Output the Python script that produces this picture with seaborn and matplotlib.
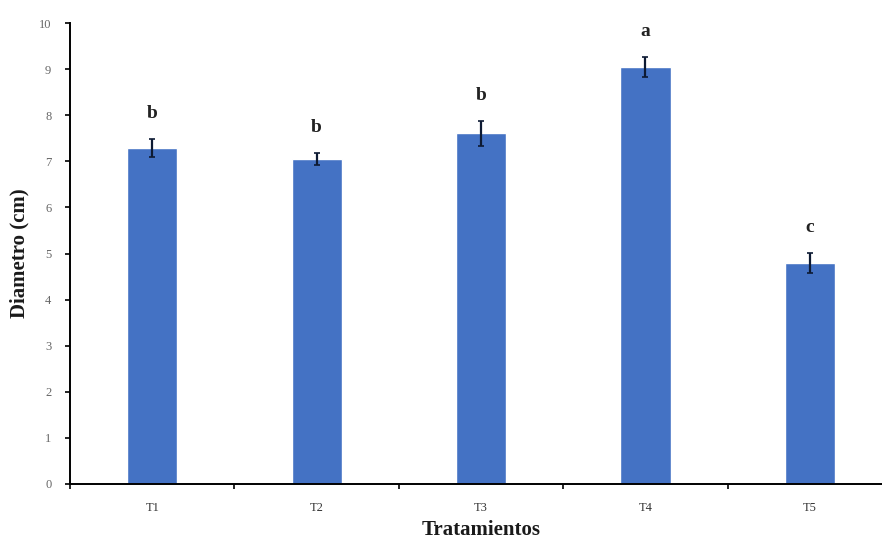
import numpy as np
import pandas as pd
import seaborn as sns
import matplotlib.pyplot as plt

tratamientos = ['T1', 'T2', 'T3', 'T4', 'T5']
diametro = [7.29, 7.05, 7.61, 9.05, 4.8]
error = [0.2, 0.14, 0.27, 0.21, 0.22]
letras = ['b', 'b', 'b', 'a', 'c']

sns.set_style('white')
plt.rcParams['font.family'] = ['Liberation Serif', 'DejaVu Serif']

df = pd.DataFrame({'Tratamientos': tratamientos, 'Diametro': diametro})

fig = plt.figure(figsize=(8.82, 5.41), dpi=100)
# axes run a bit past the right edge, like the original
ax = fig.add_axes([0.0794, 0.1054, 0.932, 0.852])

sns.barplot(data=df, x='Tratamientos', y='Diametro', color='#4472C4',
            saturation=1, width=0.305, errorbar=None, ax=ax)
ax.errorbar(np.arange(len(tratamientos)), diametro, yerr=error, fmt='none',
            ecolor='#0d1a33', elinewidth=1.6, capsize=2.5, capthick=1.2)

for i, (v, e, l) in enumerate(zip(diametro, error, letras)):
    ax.text(i, v + e + 0.55, l, ha='center', va='center', fontsize=14,
            fontweight='bold', color='#222222')

ax.set_ylim(0, 10)
ax.set_xlim(-0.5, 4.5)
ax.set_yticks(range(0, 11))
ax.set_xticks(np.arange(-0.5, 4.6, 1))
ax.set_xticklabels([])
ax.set_xticks(range(len(tratamientos)), minor=True)
ax.set_xticklabels(tratamientos, minor=True)
ax.tick_params(axis='x', which='minor', bottom=True, labelbottom=True, length=0,
               labelsize=9, pad=13, colors='#333333')
ax.tick_params(axis='x', which='major', bottom=True, length=3.5, width=1.2,
               direction='out', color='black')
ax.tick_params(axis='y', left=True, length=3.5, width=1.2, direction='out',
               labelsize=9, pad=10, labelcolor='#666666', color='black')

for s in ['top', 'right']:
    ax.spines[s].set_visible(False)
for s in ['left', 'bottom']:
    ax.spines[s].set_color('black')
    ax.spines[s].set_linewidth(1.4)

ax.set_xlabel('Tratamientos', fontsize=15, fontweight='bold', labelpad=4,
              color='#1a1a1a')
ax.set_ylabel('Diametro (cm)', fontsize=15, fontweight='bold', labelpad=7,
              color='#1a1a1a')

fig.savefig('out.png', dpi=100)
